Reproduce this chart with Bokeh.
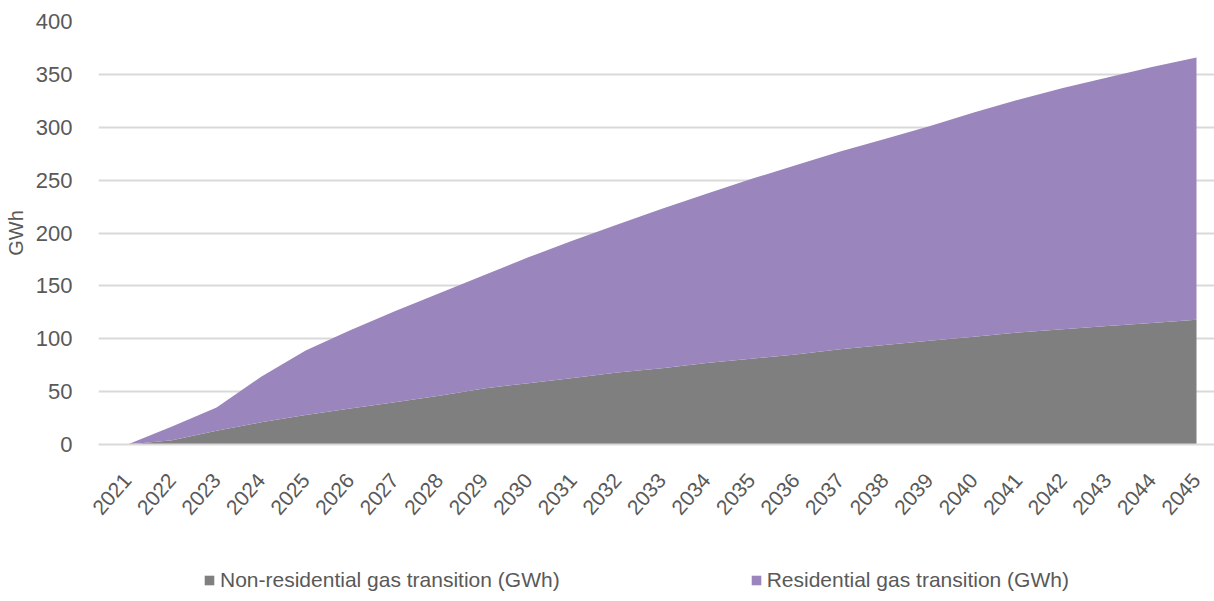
from bokeh.plotting import figure
from bokeh.layouts import column
from bokeh.models import Range1d, FixedTicker, Legend, LegendItem
from bokeh.embed import file_html
from bokeh.resources import INLINE

# Annual gas transition, GWh
years = list(range(2021, 2046))
non_residential = [0, 4, 13, 21, 28, 34, 40, 46, 53, 58, 63, 68, 72, 77, 81,
                   85, 90, 94, 98, 102, 106, 109, 112, 115, 118]
residential = [0, 13, 22, 43, 61, 74, 86, 97, 107, 119, 130, 140, 151, 160, 170,
               179, 187, 195, 203, 212, 220, 228, 235, 242, 248]
y_ticks = [0, 50, 100, 150, 200, 250, 300, 350, 400]
series_names = ["Non-residential gas transition (GWh)", "Residential gas transition (GWh)"]

FONT = "Liberation Sans"
TEXT = "#595959"
GRID = "#d9d9d9"
GREY = "#7f7f7f"
PURPLE = "#9b85bd"

src = dict(year=years, non_res=non_residential, res=residential)

p = figure(width=1214, height=524, output_backend="svg", toolbar_location=None,
           x_range=Range1d(2020.349, 2045.404), y_range=Range1d(0, 400),
           min_border_left=98, min_border_right=0, min_border_top=21,
           min_border_bottom=80)
p.outline_line_color = None
p.background_fill_color = "white"

areas = p.varea_stack(["non_res", "res"], x="year", source=src,
                      color=[GREY, PURPLE])

# axes
p.xaxis.ticker = FixedTicker(ticks=years)
p.xaxis.major_label_orientation = 0.85
p.xaxis.major_tick_line_color = None
p.xaxis.minor_tick_line_color = None
p.xaxis.axis_line_color = GRID
p.xaxis.axis_line_width = 2
p.xaxis.major_label_text_font = FONT
p.xaxis.major_label_text_font_size = "21px"
p.xaxis.major_label_text_color = TEXT
p.xaxis.major_label_standoff = 26

p.yaxis.ticker = FixedTicker(ticks=y_ticks)
p.yaxis.major_tick_line_color = None
p.yaxis.minor_tick_line_color = None
p.yaxis.axis_line_color = None
p.yaxis.major_label_text_font = FONT
p.yaxis.major_label_text_font_size = "22px"
p.yaxis.major_label_text_color = TEXT
p.yaxis.major_label_standoff = 20
p.yaxis.axis_label = "GWh"
p.yaxis.axis_label_text_font = FONT
p.yaxis.axis_label_text_font_size = "20px"
p.yaxis.axis_label_text_font_style = "normal"
p.yaxis.axis_label_text_color = TEXT
p.yaxis.axis_label_standoff = 6

p.xgrid.grid_line_color = None
p.ygrid.grid_line_color = GRID
p.ygrid.grid_line_width = 2

# legend strip: same stacked series, viewed outside their value range,
# so only the legend entries show
leg = figure(width=1214, height=77, output_backend="svg", toolbar_location=None,
             x_range=Range1d(2020, 2046), y_range=Range1d(-2, -1),
             min_border=0, x_axis_type=None, y_axis_type=None)
leg.outline_line_color = None
leg.xgrid.visible = False
leg.ygrid.visible = False
leg_areas = leg.varea_stack(["non_res", "res"], x="year", source=src,
                            color=[GREY, PURPLE])

legend = Legend(items=[LegendItem(label=series_names[0], renderers=[leg_areas[0]]),
                       LegendItem(label=series_names[1], renderers=[leg_areas[1]])],
                orientation="horizontal", location=(105, 9),
                spacing=190, glyph_width=12, glyph_height=12,
                label_standoff=5, border_line_color=None,
                background_fill_alpha=0, margin=0, padding=0,
                label_text_font=FONT, label_text_font_size="21px",
                label_text_color=TEXT)
leg.add_layout(legend, "center")

open("out.html", "w").write(file_html(column(p, leg, spacing=0), INLINE))
